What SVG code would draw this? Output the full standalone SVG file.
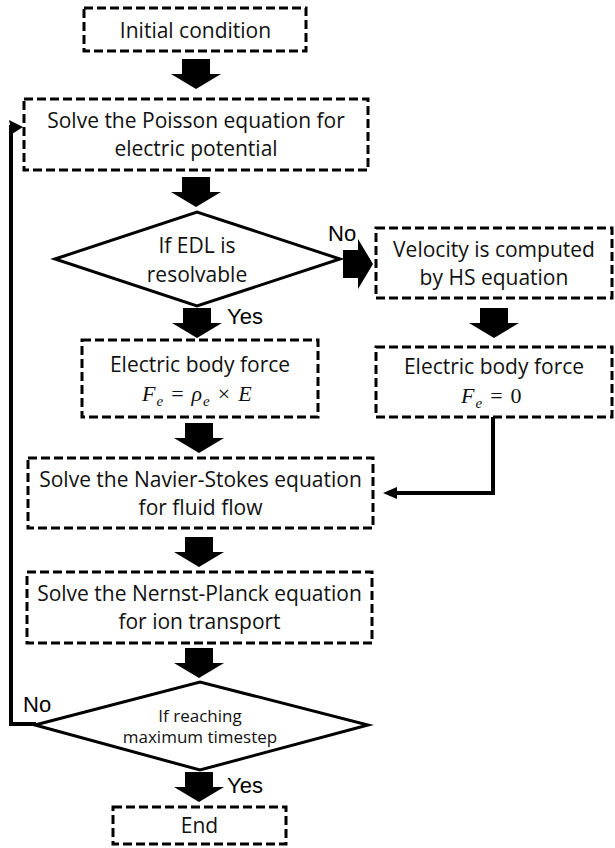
<svg xmlns="http://www.w3.org/2000/svg" xmlns:xlink="http://www.w3.org/1999/xlink" width="615" height="848" viewBox="0 0 615 848">
<style>
.box{fill:#fff;stroke:#000;stroke-width:3;stroke-dasharray:9 4}
.dia{fill:#fff;stroke:#000;stroke-width:3;stroke-linejoin:miter}
.t{font-family:"Open Sans","Noto Sans","Liberation Sans",sans-serif;font-size:21px;fill:#111;text-anchor:middle}
.ts{font-size:17px}
.lbl{font-family:"Liberation Sans",Arial,sans-serif;font-size:22px;fill:#000}
.m{font-family:"Liberation Serif","DejaVu Serif",serif;font-size:22px;fill:#111}
.mi{font-style:italic}
.sub{font-size:15px;font-style:italic}
.conn{fill:none;stroke:#000;stroke-width:4}
</style>
<defs>
<path id="blk" d="M-14,0 H14 V15 H25 L0,30 L-25,15 H-14 Z" fill="#000"/>
<marker id="ah" viewBox="0 0 14 12" refX="2" refY="6" markerWidth="14" markerHeight="12" markerUnits="userSpaceOnUse" orient="auto">
<path d="M0,0 L14,6 L0,12 Z" fill="#000"/>
</marker>
</defs>

<g id="connectors">
<use xlink:href="#blk" href="#blk" transform="translate(196,59)"/>
<use xlink:href="#blk" href="#blk" transform="translate(196,177)"/>
<use xlink:href="#blk" href="#blk" transform="translate(197,308)"/>
<use xlink:href="#blk" href="#blk" transform="translate(199,423)"/>
<use xlink:href="#blk" href="#blk" transform="translate(199,537)"/>
<use xlink:href="#blk" href="#blk" transform="translate(199,648)"/>
<use xlink:href="#blk" href="#blk" transform="translate(199,772)"/>
<use xlink:href="#blk" href="#blk" transform="translate(494,308)"/>
<use xlink:href="#blk" href="#blk" transform="translate(343,264) rotate(-90)"/>
<path class="conn" d="M493,417 V493 H395" marker-end="url(#ah)"/>
<path class="conn" d="M36,724 H11 V125"/>
<polygon points="9,120 23,127 12,134" fill="#000"/>
<text class="lbl" x="328" y="241">No</text>
<text class="lbl" x="227" y="324">Yes</text>
<text class="lbl" x="23" y="712">No</text>
<text class="lbl" x="227" y="793">Yes</text>
</g>

<g id="n-initial">
<rect class="box" x="84" y="8" width="222" height="43"/>
<text class="t" x="195.5" y="38">Initial condition</text>
</g>

<g id="n-poisson">
<rect class="box" x="24" y="99" width="344" height="71"/>
<text class="t" x="196" y="128">Solve the Poisson equation for</text>
<text class="t" x="196" y="156">electric potential</text>
</g>

<g id="n-edl">
<polygon class="dia" points="55,259 197,212 340,259 197,306"/>
<text class="t" x="197" y="253">If EDL is</text>
<text class="t" x="197" y="282">resolvable</text>
</g>

<g id="n-velocity">
<rect class="box" x="376" y="228" width="236" height="70"/>
<text class="t" x="494" y="257">Velocity is computed</text>
<text class="t" x="494" y="285">by HS equation</text>
</g>

<g id="n-force-left">
<rect class="box" x="82" y="340" width="236" height="77"/>
<text class="t" x="200" y="372">Electric body force</text>
<text class="m" x="142" y="401"><tspan class="mi">F</tspan><tspan class="sub" dx="1" dy="5">e</tspan><tspan dx="8" dy="-5">=</tspan><tspan class="mi" dx="8">ρ</tspan><tspan class="sub" dx="1" dy="5">e</tspan><tspan dx="8" dy="-5">×</tspan><tspan class="mi" dx="8">E</tspan></text>
</g>

<g id="n-force-right">
<rect class="box" x="376" y="347" width="236" height="70"/>
<text class="t" x="494" y="374">Electric body force</text>
<text class="m" x="461" y="403"><tspan class="mi">F</tspan><tspan class="sub" dx="1" dy="5">e</tspan><tspan dx="8" dy="-5">=</tspan><tspan dx="8">0</tspan></text>
</g>

<g id="n-navier">
<rect class="box" x="28" y="458" width="345" height="70"/>
<text class="t" x="200.5" y="487">Solve the Navier-Stokes equation</text>
<text class="t" x="200.5" y="515">for fluid flow</text>
</g>

<g id="n-nernst">
<rect class="box" x="27" y="572" width="345" height="71"/>
<text class="t" x="199.5" y="601">Solve the Nernst-Planck equation</text>
<text class="t" x="199.5" y="629">for ion transport</text>
</g>

<g id="n-timestep">
<polygon class="dia" points="35,725 200,682 368,725 200,770"/>
<text class="t ts" x="200" y="722">If reaching</text>
<text class="t ts" x="200" y="743">maximum timestep</text>
</g>

<g id="n-end">
<rect class="box" x="113" y="807" width="173" height="37"/>
<text class="t" x="199.5" y="833">End</text>
</g>
</svg>
